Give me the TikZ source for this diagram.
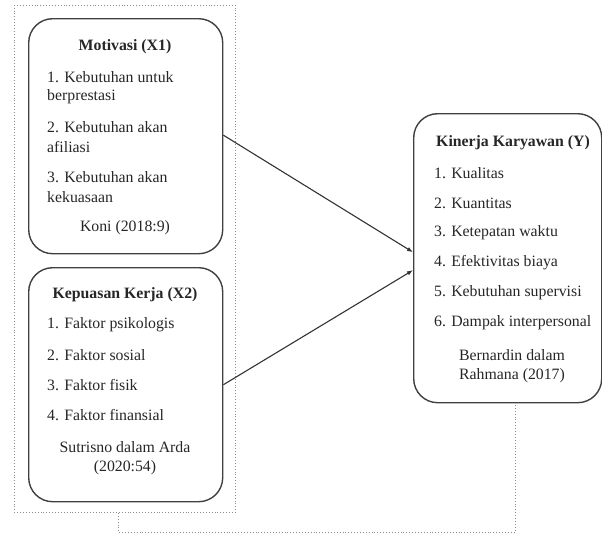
\documentclass[tikz,border=0pt]{standalone}
\usepackage{fontspec}
\setmainfont{Liberation Serif}
\usetikzlibrary{calc,arrows.meta}
\begin{document}
\begin{tikzpicture}[x=1pt,y=-1pt,
  every node/.style={font=\fontsize{15.8}{18}\selectfont, text=black!85, inner sep=0pt},
  rbox/.style={draw=black!75, line width=1.4pt, rounded corners=24pt, anchor=north west, minimum width=#1},
  grpbox/.style={draw=black!45, dotted, line width=0.9pt, anchor=north west, minimum width=221pt, minimum height=507pt},
  ttl/.style={font=\fontsize{15.8}{18}\selectfont\bfseries},
  itm/.style={anchor=west},
  arr/.style={draw=black!80, line width=1.1pt, -{Latex[length=6pt,width=4.5pt]}},
  link/.style={draw=black!45, dotted, line width=0.9pt}
]
\useasboundingbox (0,0) rectangle (602,533);

% outer dotted group
\node[grpbox] (grp) at (14,5) {};

% Motivasi box
\node[rbox=194pt, minimum height=235pt] (b1) at (28,18) {};
\node[ttl] (t1) at (125,47) {Motivasi (X1)};
\node[itm] (m1a) at (47,77) {1. Kebutuhan untuk};
\node[itm] (m1b) at (47,97) {berprestasi};
\node[itm] (m2a) at (47,127) {2. Kebutuhan akan};
\node[itm] (m2b) at (47,147) {afiliasi};
\node[itm] (m3a) at (47,177) {3. Kebutuhan akan};
\node[itm] (m3b) at (47,197) {kekuasaan};
\node (s1) at (125,228) {Koni (2018:9)};

% Kepuasan Kerja box
\node[rbox=194pt, minimum height=234pt] (b2) at (28,267) {};
\node[ttl] (t2) at (125,295) {Kepuasan Kerja (X2)};
\node[itm] (k1) at (47,325) {1. Faktor psikologis};
\node[itm] (k2) at (47,355) {2. Faktor sosial};
\node[itm] (k3) at (47,385) {3. Faktor fisik};
\node[itm] (k4) at (47,415) {4. Faktor finansial};
\node (s2a) at (125,447) {Sutrisno dalam Arda};
\node (s2b) at (125,468) {(2020:54)};

% Kinerja box
\node[rbox=188pt, minimum height=289pt] (y) at (413,113) {};
\node[ttl] (t3) at (513,143) {Kinerja Karyawan (Y)};
\node[itm] (y1) at (434,173) {1. Kualitas};
\node[itm] (y2) at (434,203) {2. Kuantitas};
\node[itm] (y3) at (434,233) {3. Ketepatan waktu};
\node[itm] (y4) at (434,263) {4. Efektivitas biaya};
\node[itm] (y5) at (434,293) {5. Kebutuhan supervisi};
\node[itm] (y6) at (434,323) {6. Dampak interpersonal};
\node (s3a) at (512,355) {Bernardin dalam};
\node (s3b) at (512,376) {Rahmana (2017)};

% arrows
\draw[arr] ($(b1.east)+(0,-1)$) -- ($(y.west)+(0,-6)$);
\draw[arr] (b2.east) -- ($(y.west)+(0,12)$);

% dotted link
\coordinate (c1) at (118,532);
\coordinate (c2) at (515,532);
\draw[link] (grp.south -| c1) -- (c1) -- (c2) -- (y.south -| c2);
\end{tikzpicture}
\end{document}
